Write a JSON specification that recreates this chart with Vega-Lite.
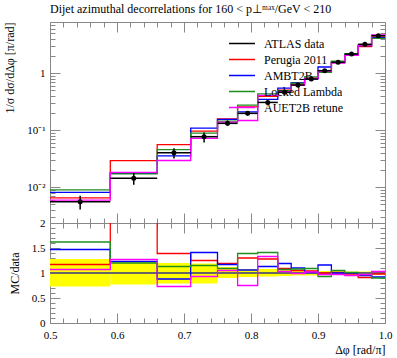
{
"$schema": "https://vega.github.io/schema/vega-lite/v6.json",
"padding": {"left": 3, "top": 2, "right": 5, "bottom": 0},
"config": {
  "font": "Liberation Serif",
  "view": {"stroke": "#888", "strokeWidth": 1},
  "axis": {"labelFont": "Liberation Serif", "titleFont": "Liberation Serif", "labelFontSize": 11, "titleFontSize": 12, "titleFontWeight": "normal", "labelColor": "#000", "titleColor": "#000", "tickColor": "#888", "domain": false, "grid": false, "labelFlush": false}
},
"datasets": {
"bins": [
{"bin":1,"xlo":0.5,"xhi":0.59,"xc":0.545,"d":0.0055,"lo":0.00402,"hi":0.00704,"blo":0.73,"bhi":1.28},
{"bin":2,"xlo":0.59,"xhi":0.66,"xc":0.625,"d":0.0142,"lo":0.01093,"hi":0.01761,"blo":0.77,"bhi":1.24},
{"bin":3,"xlo":0.66,"xhi":0.71,"xc":0.685,"d":0.040,"lo":0.0316,"hi":0.048,"blo":0.79,"bhi":1.20},
{"bin":4,"xlo":0.71,"xhi":0.75,"xc":0.73,"d":0.0764,"lo":0.0604,"hi":0.0909,"blo":0.79,"bhi":1.19},
{"bin":5,"xlo":0.75,"xhi":0.78,"xc":0.765,"d":0.131,"lo":0.118,"hi":0.147,"blo":0.90,"bhi":1.12},
{"bin":6,"xlo":0.78,"xhi":0.81,"xc":0.795,"d":0.196,"lo":0.180,"hi":0.212,"blo":0.92,"bhi":1.08},
{"bin":7,"xlo":0.81,"xhi":0.84,"xc":0.825,"d":0.305,"lo":0.284,"hi":0.329,"blo":0.93,"bhi":1.08},
{"bin":8,"xlo":0.84,"xhi":0.86,"xc":0.85,"d":0.458,"lo":0.431,"hi":0.485,"blo":0.94,"bhi":1.06},
{"bin":9,"xlo":0.86,"xhi":0.88,"xc":0.87,"d":0.616,"lo":0.579,"hi":0.653,"blo":0.95,"bhi":1.06},
{"bin":10,"xlo":0.88,"xhi":0.90,"xc":0.89,"d":0.785,"lo":0.738,"hi":0.832,"blo":0.95,"bhi":1.05},
{"bin":11,"xlo":0.90,"xhi":0.92,"xc":0.91,"d":1.10,"lo":1.067,"hi":1.144,"blo":0.96,"bhi":1.04},
{"bin":12,"xlo":0.92,"xhi":0.94,"xc":0.93,"d":1.54,"lo":1.494,"hi":1.586,"blo":0.96,"bhi":1.04},
{"bin":13,"xlo":0.94,"xhi":0.96,"xc":0.95,"d":2.15,"lo":2.086,"hi":2.215,"blo":0.97,"bhi":1.03},
{"bin":14,"xlo":0.96,"xhi":0.98,"xc":0.97,"d":3.19,"lo":3.094,"hi":3.286,"blo":0.97,"bhi":1.03},
{"bin":15,"xlo":0.98,"xhi":1.0,"xc":0.99,"d":4.52,"lo":4.384,"hi":4.656,"blo":0.97,"bhi":1.03}
],
"mc": [
{"s":"Perugia 2011","bin":1,"xlo":0.5,"xhi":0.59,"v":0.00644,"r":1.17},
{"s":"Perugia 2011","bin":2,"xlo":0.59,"xhi":0.66,"v":0.0291,"r":2.05},
{"s":"Perugia 2011","bin":3,"xlo":0.66,"xhi":0.71,"v":0.0556,"r":1.39},
{"s":"Perugia 2011","bin":4,"xlo":0.71,"xhi":0.75,"v":0.0955,"r":1.25},
{"s":"Perugia 2011","bin":5,"xlo":0.75,"xhi":0.78,"v":0.156,"r":1.19},
{"s":"Perugia 2011","bin":6,"xlo":0.78,"xhi":0.81,"v":0.255,"r":1.30},
{"s":"Perugia 2011","bin":7,"xlo":0.81,"xhi":0.84,"v":0.390,"r":1.28},
{"s":"Perugia 2011","bin":8,"xlo":0.84,"xhi":0.86,"v":0.499,"r":1.09},
{"s":"Perugia 2011","bin":9,"xlo":0.86,"xhi":0.88,"v":0.647,"r":1.05},
{"s":"Perugia 2011","bin":10,"xlo":0.88,"xhi":0.90,"v":0.816,"r":1.04},
{"s":"Perugia 2011","bin":11,"xlo":0.90,"xhi":0.92,"v":1.10,"r":1.00},
{"s":"Perugia 2011","bin":12,"xlo":0.92,"xhi":0.94,"v":1.555,"r":1.01},
{"s":"Perugia 2011","bin":13,"xlo":0.94,"xhi":0.96,"v":2.107,"r":0.98},
{"s":"Perugia 2011","bin":14,"xlo":0.96,"xhi":0.98,"v":2.903,"r":0.91},
{"s":"Perugia 2011","bin":15,"xlo":0.98,"xhi":1.0,"v":4.43,"r":0.98},
{"s":"AMBT2B","bin":1,"xlo":0.5,"xhi":0.59,"v":0.00809,"r":1.47},
{"s":"AMBT2B","bin":2,"xlo":0.59,"xhi":0.66,"v":0.01747,"r":1.23},
{"s":"AMBT2B","bin":3,"xlo":0.66,"xhi":0.71,"v":0.0352,"r":0.88},
{"s":"AMBT2B","bin":4,"xlo":0.71,"xhi":0.75,"v":0.1077,"r":1.41},
{"s":"AMBT2B","bin":5,"xlo":0.75,"xhi":0.78,"v":0.1533,"r":1.17},
{"s":"AMBT2B","bin":6,"xlo":0.78,"xhi":0.81,"v":0.2078,"r":1.06},
{"s":"AMBT2B","bin":7,"xlo":0.81,"xhi":0.84,"v":0.3447,"r":1.13},
{"s":"AMBT2B","bin":8,"xlo":0.84,"xhi":0.86,"v":0.545,"r":1.19},
{"s":"AMBT2B","bin":9,"xlo":0.86,"xhi":0.88,"v":0.678,"r":1.10},
{"s":"AMBT2B","bin":10,"xlo":0.88,"xhi":0.90,"v":0.793,"r":1.01},
{"s":"AMBT2B","bin":11,"xlo":0.90,"xhi":0.92,"v":1.276,"r":1.16},
{"s":"AMBT2B","bin":12,"xlo":0.92,"xhi":0.94,"v":1.54,"r":1.00},
{"s":"AMBT2B","bin":13,"xlo":0.94,"xhi":0.96,"v":2.15,"r":1.00},
{"s":"AMBT2B","bin":14,"xlo":0.96,"xhi":0.98,"v":3.03,"r":0.95},
{"s":"AMBT2B","bin":15,"xlo":0.98,"xhi":1.0,"v":4.158,"r":0.92},
{"s":"Locked Lambda","bin":1,"xlo":0.5,"xhi":0.59,"v":0.00891,"r":1.62},
{"s":"Locked Lambda","bin":2,"xlo":0.59,"xhi":0.66,"v":0.01704,"r":1.20},
{"s":"Locked Lambda","bin":3,"xlo":0.66,"xhi":0.71,"v":0.0452,"r":1.13},
{"s":"Locked Lambda","bin":4,"xlo":0.71,"xhi":0.75,"v":0.0879,"r":1.15},
{"s":"Locked Lambda","bin":5,"xlo":0.75,"xhi":0.78,"v":0.1428,"r":1.09},
{"s":"Locked Lambda","bin":6,"xlo":0.78,"xhi":0.81,"v":0.2724,"r":1.39},
{"s":"Locked Lambda","bin":7,"xlo":0.81,"xhi":0.84,"v":0.430,"r":1.41},
{"s":"Locked Lambda","bin":8,"xlo":0.84,"xhi":0.86,"v":0.490,"r":1.07},
{"s":"Locked Lambda","bin":9,"xlo":0.86,"xhi":0.88,"v":0.665,"r":1.08},
{"s":"Locked Lambda","bin":10,"xlo":0.88,"xhi":0.90,"v":0.856,"r":1.09},
{"s":"Locked Lambda","bin":11,"xlo":0.90,"xhi":0.92,"v":1.023,"r":0.93},
{"s":"Locked Lambda","bin":12,"xlo":0.92,"xhi":0.94,"v":1.617,"r":1.05},
{"s":"Locked Lambda","bin":13,"xlo":0.94,"xhi":0.96,"v":2.172,"r":1.01},
{"s":"Locked Lambda","bin":14,"xlo":0.96,"xhi":0.98,"v":3.094,"r":0.97},
{"s":"Locked Lambda","bin":15,"xlo":0.98,"xhi":1.0,"v":4.068,"r":0.90},
{"s":"AUET2B retune","bin":1,"xlo":0.5,"xhi":0.59,"v":0.00589,"r":1.07},
{"s":"AUET2B retune","bin":2,"xlo":0.59,"xhi":0.66,"v":0.01803,"r":1.27},
{"s":"AUET2B retune","bin":3,"xlo":0.66,"xhi":0.71,"v":0.0292,"r":0.73},
{"s":"AUET2B retune","bin":4,"xlo":0.71,"xhi":0.75,"v":0.0711,"r":0.93},
{"s":"AUET2B retune","bin":5,"xlo":0.75,"xhi":0.78,"v":0.1376,"r":1.05},
{"s":"AUET2B retune","bin":6,"xlo":0.78,"xhi":0.81,"v":0.147,"r":0.75},
{"s":"AUET2B retune","bin":7,"xlo":0.81,"xhi":0.84,"v":0.4057,"r":1.33},
{"s":"AUET2B retune","bin":8,"xlo":0.84,"xhi":0.86,"v":0.4717,"r":1.03},
{"s":"AUET2B retune","bin":9,"xlo":0.86,"xhi":0.88,"v":0.6098,"r":0.99},
{"s":"AUET2B retune","bin":10,"xlo":0.88,"xhi":0.90,"v":0.8007,"r":1.02},
{"s":"AUET2B retune","bin":11,"xlo":0.90,"xhi":0.92,"v":1.067,"r":0.97},
{"s":"AUET2B retune","bin":12,"xlo":0.92,"xhi":0.94,"v":1.494,"r":0.97},
{"s":"AUET2B retune","bin":13,"xlo":0.94,"xhi":0.96,"v":2.043,"r":0.95},
{"s":"AUET2B retune","bin":14,"xlo":0.96,"xhi":0.98,"v":3.094,"r":0.97},
{"s":"AUET2B retune","bin":15,"xlo":0.98,"xhi":1.0,"v":4.656,"r":1.03}
]
},
"spacing": 0,
"bounds": "flush",
"resolve": {"scale": {"color": "independent"}, "legend": {"color": "independent"}},
"vconcat": [
{
  "width": 335, "height": 201,
  "title": {"text": "Dijet azimuthal decorrelations for 160 < p⊥ᵐᵃˣ/GeV < 210", "anchor": "start", "frame": "group", "fontSize": 12, "fontWeight": "normal", "font": "Liberation Serif", "offset": 6},
  "layer": [
    {"data": {"name": "mc"},
     "transform": [{"fold": ["xlo", "xhi"], "as": ["edge", "x"]}],
     "mark": {"type": "line", "strokeWidth": 1.3, "clip": true},
     "encoding": {
       "x": {"field": "x", "type": "quantitative", "scale": {"domain": [0.5, 1.0], "nice": false, "zero": false},
             "axis": {"orient": "bottom", "labels": false, "title": null, "values": [0.5,0.52,0.54,0.56,0.58,0.6,0.62,0.64,0.66,0.68,0.7,0.72,0.74,0.76,0.78,0.8,0.82,0.84,0.86,0.88,0.9,0.92,0.94,0.96,0.98,1.0],
                      "tickSize": {"condition": {"test": "abs(datum.value*10-round(datum.value*10))<0.001", "value": -10}, "value": -5}}},
       "y": {"field": "v", "type": "quantitative", "scale": {"type": "log", "domain": [0.00234, 7.85], "nice": false},
             "axis": {"orient": "left", "title": "1/σ dσ/dΔφ [π/rad]", "titleAnchor": "end", "titlePadding": 10,
                      "values": [0.003,0.004,0.005,0.006,0.007,0.008,0.009,0.01,0.02,0.03,0.04,0.05,0.06,0.07,0.08,0.09,0.1,0.2,0.3,0.4,0.5,0.6,0.7,0.8,0.9,1,2,3,4,5,6,7],
                      "labelExpr": "datum.value==1?'1':datum.value==0.1?'10⁻¹':datum.value==0.01?'10⁻²':''",
                      "labelPadding": 15,
                      "tickSize": {"condition": {"test": "datum.value==1||datum.value==0.1||datum.value==0.01", "value": -10}, "value": -5}}},
       "color": {"field": "s", "type": "nominal",
                 "scale": {"domain": ["ATLAS data", "Perugia 2011", "AMBT2B", "Locked Lambda", "AUET2B retune"], "range": ["#000000", "#ff0000", "#0000ff", "#1f8f1f", "#ff00ff"]},
                 "legend": {"orient": "none", "legendX": 184.5, "legendY": 14, "title": null, "symbolType": "M-2,0H2", "symbolSize": 169, "symbolStrokeWidth": 1.5, "symbolFillColor": "transparent", "labelFontSize": 12, "labelFont": "Liberation Serif", "labelOffset": 14.5, "rowPadding": 2, "padding": 0, "labelLimit": 200}},
       "order": [{"field": "x", "type": "quantitative"}, {"field": "bin", "type": "quantitative"}]
     }},
    {"data": {"name": "bins"},
     "mark": {"type": "rule", "color": "#000", "strokeWidth": 1.5},
     "encoding": {
       "x": {"field": "xlo", "type": "quantitative", "scale": {"domain": [0.5, 1.0], "nice": false, "zero": false}, "axis": null},
       "x2": {"field": "xhi"},
       "y": {"field": "d", "type": "quantitative", "scale": {"type": "log", "domain": [0.00234, 7.85], "nice": false}, "axis": null}
     }},
    {"data": {"name": "bins"},
     "mark": {"type": "rule", "color": "#000", "strokeWidth": 1.5},
     "encoding": {
       "x": {"field": "xc", "type": "quantitative", "scale": {"domain": [0.5, 1.0], "nice": false, "zero": false}, "axis": null},
       "y": {"field": "lo", "type": "quantitative", "scale": {"type": "log", "domain": [0.00234, 7.85], "nice": false}, "axis": null},
       "y2": {"field": "hi"}
     }},
    {"data": {"name": "bins"},
     "mark": {"type": "point", "filled": true, "color": "#000", "size": 25, "opacity": 1},
     "encoding": {
       "x": {"field": "xc", "type": "quantitative", "scale": {"domain": [0.5, 1.0], "nice": false, "zero": false}, "axis": null},
       "y": {"field": "d", "type": "quantitative", "scale": {"type": "log", "domain": [0.00234, 7.85], "nice": false}, "axis": null}
     }},
    {"data": {"name": "bins"},
     "mark": {"type": "point", "opacity": 0},
     "encoding": {
       "x": {"field": "xc", "type": "quantitative", "scale": {"domain": [0.5, 1.0], "nice": false, "zero": false},
             "axis": {"orient": "top", "labels": false, "title": null, "values": [0.5,0.52,0.54,0.56,0.58,0.6,0.62,0.64,0.66,0.68,0.7,0.72,0.74,0.76,0.78,0.8,0.82,0.84,0.86,0.88,0.9,0.92,0.94,0.96,0.98,1.0],
                      "tickSize": {"condition": {"test": "abs(datum.value*10-round(datum.value*10))<0.001", "value": -10}, "value": -5}}},
       "y": {"field": "d", "type": "quantitative", "scale": {"type": "log", "domain": [0.00234, 7.85], "nice": false},
             "axis": {"orient": "right", "labels": false, "title": null,
                      "values": [0.003,0.004,0.005,0.006,0.007,0.008,0.009,0.01,0.02,0.03,0.04,0.05,0.06,0.07,0.08,0.09,0.1,0.2,0.3,0.4,0.5,0.6,0.7,0.8,0.9,1,2,3,4,5,6,7],
                      "tickSize": {"condition": {"test": "datum.value==1||datum.value==0.1||datum.value==0.01", "value": -10}, "value": -5}}}
     }}
  ],
  "resolve": {"axis": {"x": "independent", "y": "independent"}}
},
{
  "width": 335, "height": 100,
  "layer": [
    {"data": {"name": "bins"},
     "mark": {"type": "rect", "color": "#ffff00"},
     "encoding": {
       "x": {"field": "xlo", "type": "quantitative", "scale": {"domain": [0.5, 1.0], "nice": false, "zero": false},
             "axis": {"orient": "bottom", "title": "Δφ [rad/π]", "titleAnchor": "end", "titlePadding": 4, "labelPadding": 16, "labelBaseline": "top",
                      "values": [0.5,0.52,0.54,0.56,0.58,0.6,0.62,0.64,0.66,0.68,0.7,0.72,0.74,0.76,0.78,0.8,0.82,0.84,0.86,0.88,0.9,0.92,0.94,0.96,0.98,1.0],
                      "labelExpr": "abs(datum.value*10-round(datum.value*10))<0.001 ? format(datum.value,'.1f') : ''",
                      "tickSize": {"condition": {"test": "abs(datum.value*10-round(datum.value*10))<0.001", "value": -10}, "value": -5}}},
       "x2": {"field": "xhi"},
       "y": {"field": "blo", "type": "quantitative", "scale": {"domain": [0, 2], "nice": false, "zero": false},
             "axis": {"orient": "left", "title": "MC/data", "titlePadding": 10, "labelPadding": 15,
                      "values": [0,0.1,0.2,0.3,0.4,0.5,0.6,0.7,0.8,0.9,1,1.1,1.2,1.3,1.4,1.5,1.6,1.7,1.8,1.9,2],
                      "labelExpr": "datum.value==0?'0':datum.value==0.5?'0.5':datum.value==1?'1':datum.value==1.5?'1.5':datum.value==2?'2':''",
                      "tickSize": {"condition": {"test": "abs(datum.value*2-round(datum.value*2))<0.001", "value": -10}, "value": -5}}},
       "y2": {"field": "bhi"}
     }},
    {"data": {"name": "bins"},
     "mark": {"type": "rule", "color": "#666", "strokeWidth": 1},
     "encoding": {
       "y": {"datum": 1, "type": "quantitative", "scale": {"domain": [0, 2], "nice": false, "zero": false}, "axis": null}
     }},
    {"data": {"name": "mc"},
     "transform": [{"fold": ["xlo", "xhi"], "as": ["edge", "x"]}],
     "mark": {"type": "line", "strokeWidth": 1.3, "clip": true},
     "encoding": {
       "x": {"field": "x", "type": "quantitative", "scale": {"domain": [0.5, 1.0], "nice": false, "zero": false}, "axis": null},
       "y": {"field": "r", "type": "quantitative", "scale": {"domain": [0, 2], "nice": false, "zero": false}, "axis": null},
       "color": {"field": "s", "type": "nominal",
                 "scale": {"domain": ["ATLAS data", "Perugia 2011", "AMBT2B", "Locked Lambda", "AUET2B retune"], "range": ["#000000", "#ff0000", "#0000ff", "#1f8f1f", "#ff00ff"]},
                 "legend": null},
       "order": [{"field": "x", "type": "quantitative"}, {"field": "bin", "type": "quantitative"}]
     }},
    {"data": {"name": "bins"},
     "mark": {"type": "point", "opacity": 0},
     "encoding": {
       "x": {"field": "xc", "type": "quantitative", "scale": {"domain": [0.5, 1.0], "nice": false, "zero": false},
             "axis": {"orient": "top", "labels": false, "title": null, "values": [0.5,0.52,0.54,0.56,0.58,0.6,0.62,0.64,0.66,0.68,0.7,0.72,0.74,0.76,0.78,0.8,0.82,0.84,0.86,0.88,0.9,0.92,0.94,0.96,0.98,1.0],
                      "tickSize": {"condition": {"test": "abs(datum.value*10-round(datum.value*10))<0.001", "value": -10}, "value": -5}}},
       "y": {"field": "d", "type": "quantitative", "scale": {"domain": [0, 2], "nice": false, "zero": false},
             "axis": {"orient": "right", "labels": false, "title": null,
                      "values": [0,0.1,0.2,0.3,0.4,0.5,0.6,0.7,0.8,0.9,1,1.1,1.2,1.3,1.4,1.5,1.6,1.7,1.8,1.9,2],
                      "tickSize": {"condition": {"test": "abs(datum.value*2-round(datum.value*2))<0.001", "value": -10}, "value": -5}}}
     }}
  ],
  "resolve": {"axis": {"x": "independent", "y": "independent"}}
}
]
}
